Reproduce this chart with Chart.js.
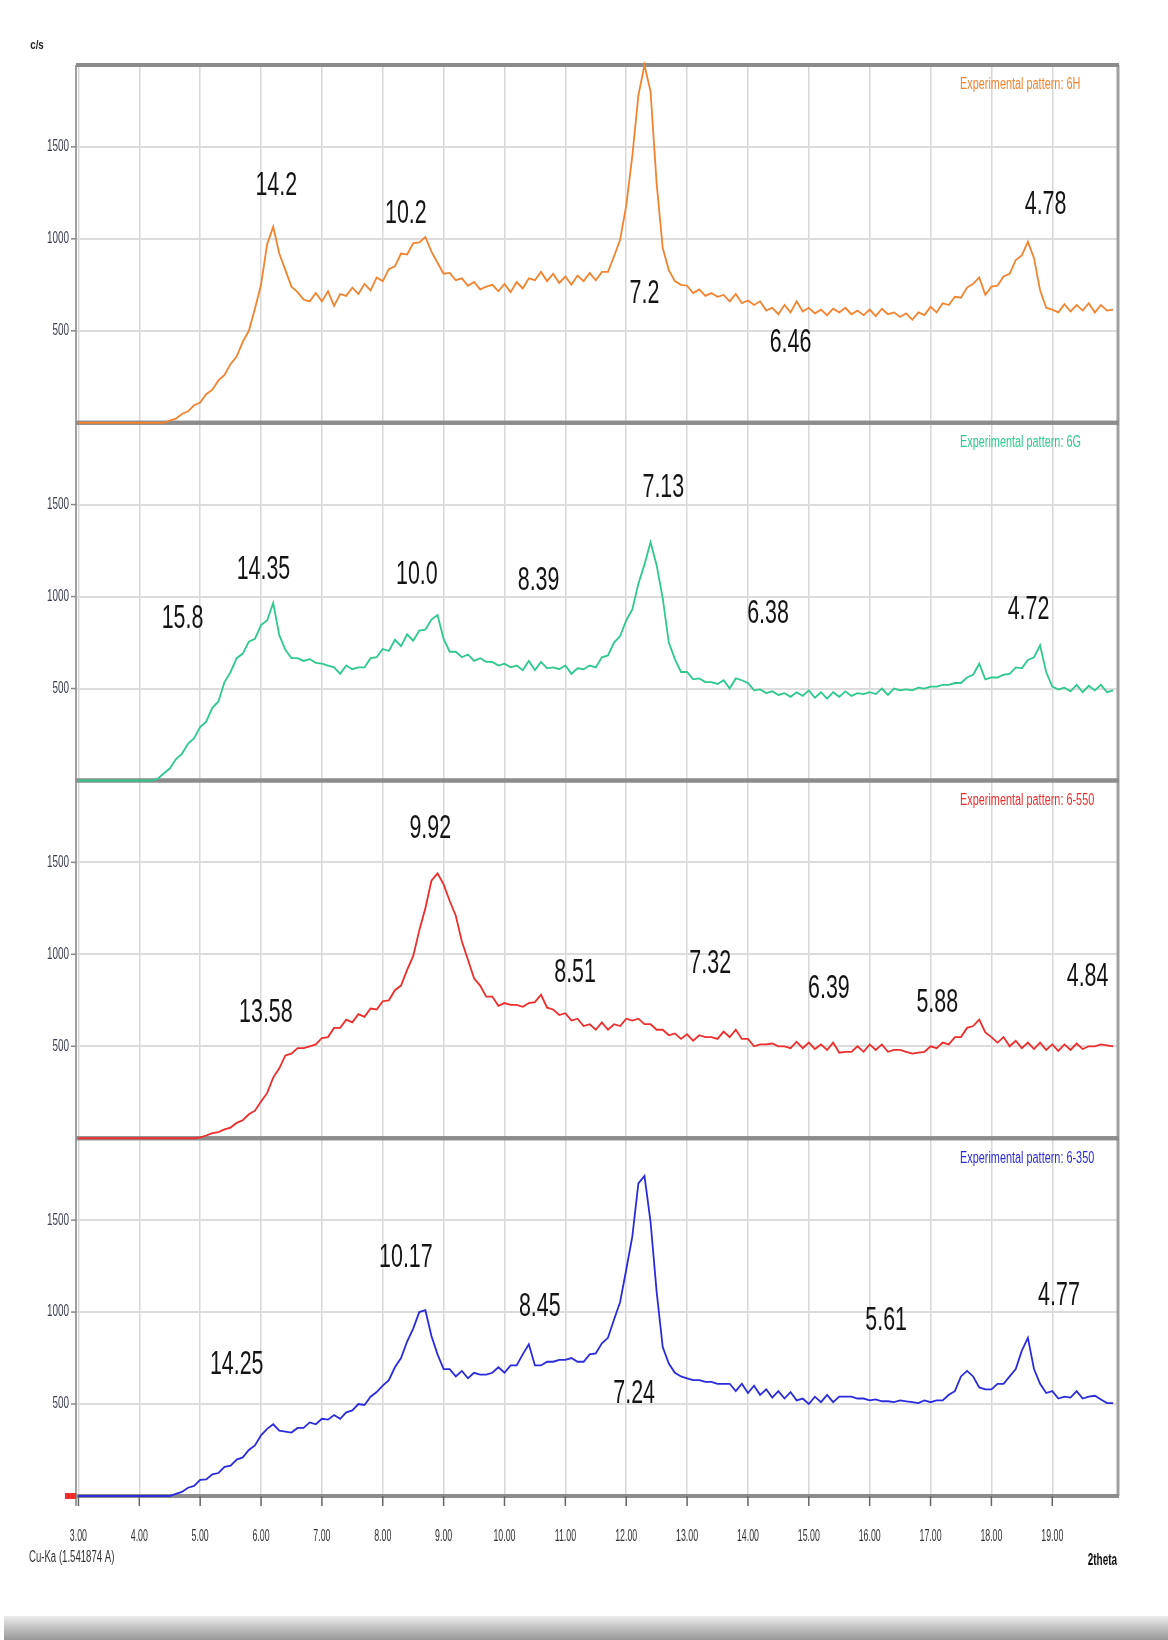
<!DOCTYPE html>
<html>
<head>
<meta charset="utf-8">
<script src="https://cdn.jsdelivr.net/npm/chart.js@4.4.1/dist/chart.umd.min.js"></script>
<style>
  body { margin: 0; background: #fff; }
  canvas { display: block; }
</style>
</head>
<body>
<canvas id="xrd" width="1168" height="1640"></canvas>
<script>
// 2theta grid (deg)
const twoTheta = [
  3.0,3.1,3.2,3.3,3.4,3.5,3.6,3.7,3.8,3.9,
  4.0,4.1,4.2,4.3,4.4,4.5,4.6,4.7,4.8,4.9,
  5.0,5.1,5.2,5.3,5.4,5.5,5.6,5.7,5.8,5.9,
  6.0,6.1,6.2,6.3,6.4,6.5,6.6,6.7,6.8,6.9,
  7.0,7.1,7.2,7.3,7.4,7.5,7.6,7.7,7.8,7.9,
  8.0,8.1,8.2,8.3,8.4,8.5,8.6,8.7,8.8,8.9,
  9.0,9.1,9.2,9.3,9.4,9.5,9.6,9.7,9.8,9.9,
  10.0,10.1,10.2,10.3,10.4,10.5,10.6,10.7,10.8,10.9,
  11.0,11.1,11.2,11.3,11.4,11.5,11.6,11.7,11.8,11.9,
  12.0,12.1,12.2,12.3,12.4,12.5,12.6,12.7,12.8,12.9,
  13.0,13.1,13.2,13.3,13.4,13.5,13.6,13.7,13.8,13.9,
  14.0,14.1,14.2,14.3,14.4,14.5,14.6,14.7,14.8,14.9,
  15.0,15.1,15.2,15.3,15.4,15.5,15.6,15.7,15.8,15.9,
  16.0,16.1,16.2,16.3,16.4,16.5,16.6,16.7,16.8,16.9,
  17.0,17.1,17.2,17.3,17.4,17.5,17.6,17.7,17.8,17.9,
  18.0,18.1,18.2,18.3,18.4,18.5,18.6,18.7,18.8,18.9,
  19.0,19.1,19.2,19.3,19.4,19.5,19.6,19.7,19.8,19.9,
  20.0
];

// counts (c/s), one array per pattern, top panel first
const pattern6H = [
  0,0,0,0,0,0,0,0,0,0,
  0,0,0,0,0,12,22,48,62,95,
  110,155,180,230,260,320,360,440,500,620,
  750,970,1065,920,830,740,710,670,660,705,
  660,715,635,700,690,735,700,755,720,790,
  770,835,850,920,915,975,980,1010,930,870,
  810,815,775,785,745,765,725,740,750,715,
  755,710,765,730,785,775,820,770,810,760,
  795,750,800,770,815,775,820,820,905,995,
  1180,1450,1780,1945,1800,1300,950,830,770,750,
  745,705,725,690,705,685,695,660,700,650,
  665,640,660,610,625,590,640,600,660,605,
  625,595,615,585,620,600,625,590,610,585,
  615,580,620,590,600,575,595,560,600,585,
  630,600,650,640,685,680,735,755,790,695,
  740,745,795,810,885,910,985,895,720,625,
  615,600,645,605,640,610,650,600,640,610,
  615
];
const pattern6G = [
  0,0,0,0,0,0,0,0,0,0,
  0,0,0,8,38,65,115,145,200,230,
  290,320,395,430,535,590,665,690,755,770,
  845,870,965,790,710,665,665,650,660,640,
  635,625,615,580,625,605,615,615,665,670,
  715,705,765,730,795,760,815,820,875,900,
  770,700,700,670,685,650,665,645,645,625,
  635,615,625,600,650,600,645,610,615,605,
  625,580,610,605,625,615,670,680,750,785,
  870,930,1070,1175,1295,1170,990,750,660,590,
  590,550,555,535,535,525,545,500,555,545,
  530,490,495,475,485,465,475,455,480,460,
  490,450,480,445,480,455,485,460,475,470,
  480,470,500,465,500,490,495,490,505,500,
  510,510,520,520,530,530,560,575,635,550,
  560,560,575,580,615,610,655,670,735,590,
  510,495,505,485,520,480,515,490,520,480,
  490
];
const pattern6_550 = [
  0,0,0,0,0,0,0,0,0,0,
  0,0,0,0,0,0,0,0,0,0,
  5,15,28,33,48,58,84,98,130,150,
  200,245,330,380,450,460,490,490,500,510,
  545,550,600,600,645,630,675,660,705,700,
  745,750,805,830,915,990,1130,1250,1400,1440,
  1380,1290,1210,1070,970,870,830,770,770,720,
  735,725,725,715,735,740,780,710,700,670,
  680,640,650,610,620,590,630,590,620,610,
  650,640,650,620,620,590,590,560,570,540,
  565,530,560,550,550,540,580,550,590,540,
  540,500,510,510,515,500,500,490,525,490,
  520,485,510,480,520,465,470,470,500,470,
  510,480,510,470,480,480,470,460,465,470,
  500,490,520,510,550,550,600,610,645,575,
  550,520,550,500,530,490,520,485,520,480,
  510,475,510,480,515,485,500,500,510,505,
  500
];
const pattern6_350 = [
  0,0,0,0,0,0,0,0,0,0,
  0,0,0,0,0,0,12,22,45,55,
  88,90,118,125,158,165,198,210,250,275,
  330,365,390,355,350,345,370,370,400,390,
  420,415,440,420,455,465,500,495,540,565,
  600,630,700,750,840,910,1000,1010,870,770,
  690,690,650,680,640,670,660,660,670,700,
  670,710,710,770,825,710,710,730,730,740,
  740,750,730,730,770,775,830,860,960,1055,
  1230,1410,1700,1740,1490,1110,810,720,670,650,
  640,630,630,620,620,610,610,610,570,610,
  560,600,550,580,535,570,530,565,520,530,
  500,540,510,550,510,540,540,540,530,530,
  520,525,515,515,510,520,515,510,505,520,
  510,520,520,550,570,650,680,650,590,580,
  580,610,610,650,690,790,860,690,610,560,
  570,530,540,535,570,530,540,545,525,505,
  505
];

const seriesNames = ['Experimental pattern: 6H', 'Experimental pattern: 6G',
                     'Experimental pattern: 6-550', 'Experimental pattern: 6-350'];
const seriesColors = ['#f2832f', '#2ec98c', '#ee2d2d', '#2b2bdc'];

const xTickValues = [3,4,5,6,7,8,9,10,11,12,13,14,15,16,17,18,19];
const xTickLabels = ['3.00','4.00','5.00','6.00','7.00','8.00','9.00','10.00','11.00',
                     '12.00','13.00','14.00','15.00','16.00','17.00','18.00','19.00'];
const yTickValues = [500, 1000, 1500];

// d-spacing labels (A), placed in data units of each panel
const peakText = [
  ['14.2','10.2','7.2','6.46','4.78'],
  ['15.8','14.35','10.0','8.39','7.13','6.38','4.72'],
  ['13.58','9.92','8.51','7.32','6.39','5.88','4.84'],
  ['14.25','10.17','8.45','7.24','5.61','4.77']
];
const peakX = [
  [6.25, 8.38, 12.30, 14.70, 18.89],
  [4.71, 6.04, 8.56, 10.56, 12.61, 14.33, 18.61],
  [6.08, 8.78, 11.16, 13.38, 15.33, 17.11, 19.58],
  [5.60, 8.38, 10.58, 12.13, 16.27, 19.11]
];
const peakY = [
  [1288, 1135, 701, 434, 1186],
  [880, 1148, 1122, 1084, 1594, 905, 931],
  [684, 1682, 901, 952, 812, 735, 876],
  [716, 1295, 1029, 559, 953, 1092]
];

const patterns = [pattern6H, pattern6G, pattern6_550, pattern6_350];
const panelIds = ['y1', 'y2', 'y3', 'y4'];

function squeezeText(ctx, text, x, y, size, sx, align, color, bold) {
  ctx.save();
  ctx.translate(x, y);
  ctx.scale(sx, 1);
  ctx.font = (bold ? 'bold ' : '') + size + 'px "Liberation Sans", Arial, sans-serif';
  ctx.textAlign = align;
  ctx.textBaseline = 'middle';
  ctx.fillStyle = color;
  ctx.fillText(text, 0, 0);
  ctx.restore();
}

const framePlugin = {
  id: 'frame',
  beforeDatasetsDraw(chart) {
    const ctx = chart.ctx;
    const a = chart.chartArea;
    ctx.save();
    // left axis and right border
    ctx.strokeStyle = '#a0a0a0';
    ctx.lineWidth = 2;
    ctx.beginPath();
    ctx.moveTo(a.left, a.top); ctx.lineTo(a.left, a.bottom + 10);
    ctx.stroke();
    ctx.lineWidth = 3;
    ctx.beginPath();
    ctx.moveTo(a.right, a.top); ctx.lineTo(a.right, a.bottom);
    ctx.stroke();
    // thick panel separators
    ctx.strokeStyle = '#8c8c8c';
    ctx.lineWidth = 4;
    panelIds.forEach(id => {
      const s = chart.scales[id];
      [s.top, s.bottom].forEach(py => {
        ctx.beginPath();
        ctx.moveTo(a.left, py); ctx.lineTo(a.right + 1, py);
        ctx.stroke();
      });
    });
    // x tick marks
    const xs = chart.scales.x;
    ctx.strokeStyle = '#666';
    ctx.lineWidth = 1.5;
    xTickValues.forEach(v => {
      const px = xs.getPixelForValue(v);
      ctx.beginPath();
      ctx.moveTo(px, a.bottom); ctx.lineTo(px, a.bottom + 10);
      ctx.stroke();
    });
    ctx.restore();
  },
  afterDraw(chart) {
    const ctx = chart.ctx;
    const a = chart.chartArea;
    const xs = chart.scales.x;
    ctx.save();
    // y tick labels and marks for each panel
    panelIds.forEach((id, p) => {
      const s = chart.scales[id];
      yTickValues.forEach(v => {
        const py = s.getPixelForValue(v);
        ctx.strokeStyle = '#888';
        ctx.lineWidth = 1.5;
        ctx.beginPath();
        ctx.moveTo(a.left - 5, py); ctx.lineTo(a.left, py);
        ctx.stroke();
        squeezeText(ctx, String(v), a.left - 7, py, 16, 0.62, 'right', '#3b4052', false);
      });
      // legend text
      squeezeText(ctx, seriesNames[p], 960, s.top + 20, 16, 0.68, 'left', seriesColors[p], false);
      // peak labels
      peakText[p].forEach((t, i) => {
        squeezeText(ctx, t, xs.getPixelForValue(peakX[p][i]), s.getPixelForValue(peakY[p][i]),
                    34, 0.63, 'center', '#141414', false);
      });
    });
    // x tick labels
    xTickValues.forEach((v, i) => {
      squeezeText(ctx, xTickLabels[i], xs.getPixelForValue(v), a.bottom + 41, 16, 0.55, 'center', '#333', false);
    });
    // small pattern marker at origin
    ctx.fillStyle = '#ee2d2d';
    ctx.fillRect(a.left - 11, a.bottom - 3, 11, 6);
    // captions
    squeezeText(ctx, 'c/s', 37, 45, 13, 0.75, 'center', '#222', true);
    squeezeText(ctx, 'Cu-Ka (1.541874 A)', 29, 1558, 16, 0.6, 'left', '#333', false);
    squeezeText(ctx, '2theta', 1117, 1561, 16, 0.62, 'right', '#111', true);
    // grey band at the bottom of the page
    const g = ctx.createLinearGradient(0, 1616, 0, 1640);
    g.addColorStop(0, '#ececec');
    g.addColorStop(1, '#979797');
    ctx.fillStyle = g;
    ctx.fillRect(4, 1616, 1164, 24);
    ctx.restore();
  }
};

function yPanel() {
  return {
    type: 'linear',
    position: 'left',
    stack: 'xrd',
    stackWeight: 1,
    min: 0,
    max: 1945,
    afterBuildTicks: s => { s.ticks = yTickValues.map(v => ({ value: v })); },
    afterFit: s => { s.width = 0; },
    ticks: { display: false },
    grid: { color: '#dcdcdc', lineWidth: 2, drawTicks: false },
    border: { display: false }
  };
}

const scales = {
  x: {
    type: 'linear',
    min: 2.96,
    max: 20.08,
    afterBuildTicks: s => { s.ticks = xTickValues.map(v => ({ value: v })); },
    afterFit: s => { s.height = 0; },
    ticks: { display: false },
    grid: { color: '#d8d8d8', lineWidth: 1.5, drawTicks: false },
    border: { display: false }
  }
};
// listed bottom panel first
['y4', 'y3', 'y2', 'y1'].forEach(id => { scales[id] = yPanel(); });

new Chart(document.getElementById('xrd').getContext('2d'), {
  type: 'line',
  data: {
    datasets: patterns.map((arr, p) => ({
      label: seriesNames[p],
      data: twoTheta.map((t, i) => ({ x: t, y: arr[i] })),
      yAxisID: panelIds[p],
      borderColor: seriesColors[p],
      borderWidth: 1.8,
      pointRadius: 0,
      tension: 0,
      clip: 6
    }))
  },
  options: {
    responsive: false,
    animation: false,
    layout: { padding: { left: 76, right: 50, top: 65, bottom: 144 } },
    plugins: { legend: { display: false }, tooltip: { enabled: false } },
    scales: scales
  },
  plugins: [framePlugin]
});
</script>
</body>
</html>
